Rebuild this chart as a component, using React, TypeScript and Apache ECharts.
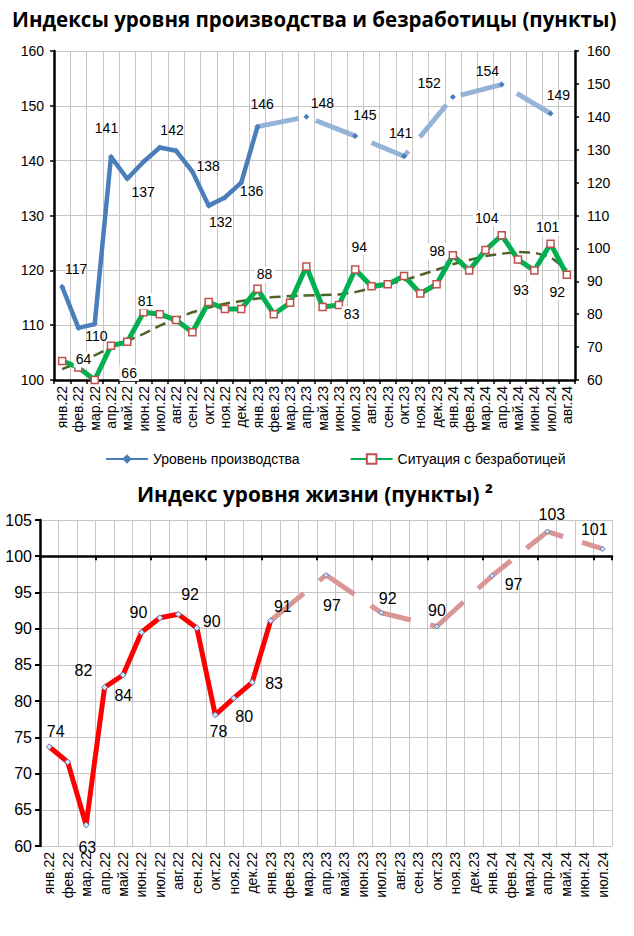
import React, { useEffect, useRef } from 'react';
import * as echarts from 'echarts';

// ---------- Data ----------
const monthsTop = [
  'янв.22', 'фев.22', 'мар.22', 'апр.22', 'май.22', 'июн.22', 'июл.22', 'авг.22', 'сен.22', 'окт.22', 'ноя.22', 'дек.22',
  'янв.23', 'фев.23', 'мар.23', 'апр.23', 'май.23', 'июн.23', 'июл.23', 'авг.23', 'сен.23', 'окт.23', 'ноя.23', 'дек.23',
  'янв.24', 'фев.24', 'мар.24', 'апр.24', 'май.24', 'июн.24', 'июл.24', 'авг.24',
];
const monthsBottom = [
  'янв.22', 'фев.22', 'мар.22', 'апр.22', 'май.22', 'июн.22', 'июл.22', 'авг.22', 'сен.22', 'окт.22', 'ноя.22', 'дек.22',
  'янв.23', 'фев.23', 'мар.23', 'апр.23', 'май.23', 'июн.23', 'июл.23', 'авг.23', 'сен.23', 'окт.23', 'ноя.23', 'дек.23',
  'янв.24', 'фев.24', 'мар.24', 'апр.24', 'май.24', 'июн.24', 'июл.24',
];

// Уровень производства: monthly (янв.22 – янв.23), then quarterly
const productionMonthly = [117, 109.5, 110.2, 140.7, 136.7, 139.8, 142.4, 141.8, 138, 131.8, 133.3, 136, 146.2];
const quarterMonths = ['янв.23', 'апр.23', 'июл.23', 'окт.23', 'янв.24', 'апр.24', 'июл.24'];
const productionQuarterly = [146.2, 148, 144.5, 140.8, 151.6, 153.9, 148.6];

// Ситуация с безработицей (right axis)
const unemployment = [
  65.8, 63.8, 60, 70.4, 71.6, 80.6, 80, 78.2, 74.5, 83.7, 81.6, 81.6,
  87.7, 80, 83.5, 94.5, 82.2, 82.8, 93.6, 88.5, 89.1, 91.6, 86.3, 89.1,
  97.9, 93.3, 99.5, 104, 96.6, 93.3, 101.4, 92,
];
const unemploymentTrend = [
  63.3, 65.3, 67.5, 69.9, 71.9, 74, 76.5, 78.7, 80.6, 82, 83.2, 84,
  84.8, 85.2, 85.5, 85.7, 85.8, 86, 86.7, 87.9, 89, 90.3, 91.9, 93.5,
  95.2, 96.5, 97.7, 98.4, 98.9, 98.7, 97.4, 93.5,
];

// Индекс уровня жизни
const lifeMonthly = [73.7, 71.6, 62.9, 81.9, 83.6, 89.5, 91.5, 92, 90.1, 78.1, 80.4, 82.6, 91.1];
const lifeQuarterly = [91.1, 97.4, 92.2, 90.3, 97.3, 103.4, 101];

// ---------- Label placement (styling) ----------
type Off = Record<number, [number, number]>;
const prodMonthlyLabelOffsets: Off = {
  0: [14, -17.5], 2: [1.7, 12], 3: [-4.5, -28.4], 4: [15.8, 13], 6: [12.2, -17.3], 8: [15.7, -5.5], 9: [12, 16], 11: [10.3, 8],
};
const prodQuarterLabelOffsets: Off = {
  0: [4.6, -22.5], 1: [16, -14], 2: [9.7, -20.8], 3: [-3.4, -22.8], 4: [-23.7, -14], 5: [-14.4, -13.5], 6: [7.8, -18.3],
};
const unemploymentLabelOffsets: Off = {
  0: [67, 12], 1: [5, -8], 5: [2, -11], 12: [7, -14.5], 17: [12.7, 9.3], 18: [4, -22], 24: [-15.7, -4],
  27: [-15, -17.4], 29: [-13.3, 19.7], 30: [-3, -16.3], 31: [-9.5, 17.4],
};
const lifeMonthlyLabelOffsets: Off = {
  0: [6.5, -15], 2: [1.2, 22.3], 3: [-21.2, -16.6], 4: [0.3, 20], 5: [-3.1, -19.6], 7: [11.7, -19.9],
  8: [14.9, -6.3], 9: [3.1, 16.8], 10: [10.4, 18.2], 11: [21.9, 1], 12: [12.2, -14],
};
const lifeQuarterLabelOffsets: Off = {
  1: [5.9, 30.7], 2: [6.3, -14.4], 3: [0.2, -15.8], 4: [21.5, 9.2], 5: [4.5, -16.6], 6: [-8.5, -19.7],
};

const FONT = 'Liberation Sans';

function fmt(p: any) {
  const v = Array.isArray(p.value) ? p.value[1] : p.value;
  return String(Math.round(v));
}

function labelled(values: any[], offsets: Off, extra: any) {
  return values.map((v, i) =>
    offsets[i]
      ? {
          value: v,
          label: {
            show: true,
            position: 'inside',
            offset: offsets[i],
            formatter: fmt,
            color: '#000',
            fontFamily: FONT,
            ...extra,
          },
        }
      : v
  );
}

export default function App() {
  const ref = useRef<HTMLDivElement>(null);

  useEffect(() => {
    if (!ref.current) return;
    const chart = echarts.init(ref.current, null, { renderer: 'svg' });

    const gridTopH = 329;
    const gridBotH = 326;

    const blackAxis = { show: true, lineStyle: { color: '#000', width: 2.5 } };
    const grayGrid = { show: true, lineStyle: { color: '#c6c6c6', width: 1 } };

    const option: any = {
      animation: false,
      backgroundColor: '#ffffff',
      title: [
        {
          text: 'Индексы уровня производства и безработицы (пункты)',
          left: 7,
          top: 3,
          textStyle: { fontFamily: 'Open Sans', fontWeight: 'bold', fontSize: 20.5, color: '#000' },
        },
        {
          text: 'Индекс уровня жизни (пункты) ²',
          left: 132,
          top: 478,
          textStyle: { fontFamily: 'Open Sans', fontWeight: 'bold', fontSize: 20.8, color: '#000' },
        },
      ],
      legend: {
        data: ['Уровень производства', 'Ситуация с безработицей'],
        left: 100,
        top: 447,
        itemWidth: 42,
        itemHeight: 12,
        itemGap: 50,
        textStyle: { fontFamily: FONT, fontSize: 14, color: '#000' },
      },
      grid: [
        { left: 54, top: 51, width: 521, height: gridTopH },
        { left: 40, top: 520, width: 572, height: gridBotH },
      ],
      xAxis: [
        {
          gridIndex: 0,
          type: 'category',
          data: monthsTop,
          boundaryGap: true,
          axisLine: blackAxis,
          axisTick: { show: true, length: 4, lineStyle: { color: '#000', width: 1.5 } },
          splitLine: grayGrid,
          axisLabel: { rotate: 90, interval: 0, fontSize: 14, fontFamily: FONT, color: '#000', margin: 6 },
        },
        {
          gridIndex: 1,
          type: 'category',
          data: monthsBottom,
          boundaryGap: true,
          axisLine: { show: false },
          axisTick: { show: false },
          splitLine: grayGrid,
          axisLabel: { rotate: 90, interval: 0, fontSize: 14, fontFamily: FONT, color: '#000', margin: 6 },
        },
        {
          gridIndex: 1,
          type: 'category',
          data: monthsBottom,
          boundaryGap: true,
          position: 'top',
          offset: -gridBotH / 9,
          axisLine: blackAxis,
          axisTick: { show: true, inside: true, length: 4, lineStyle: { color: '#000', width: 2 } },
          axisLabel: { show: false },
          splitLine: { show: false },
        },
      ],
      yAxis: [
        {
          gridIndex: 0,
          type: 'value',
          min: 100,
          max: 160,
          interval: 10,
          axisLine: blackAxis,
          axisTick: { show: true, length: 4, lineStyle: { color: '#000', width: 1.5 } },
          splitLine: grayGrid,
          axisLabel: { fontSize: 14, fontFamily: FONT, color: '#000', margin: 10 },
        },
        {
          gridIndex: 0,
          type: 'value',
          position: 'right',
          min: 60,
          max: 160,
          interval: 10,
          axisLine: blackAxis,
          axisTick: { show: true, length: 4, lineStyle: { color: '#000', width: 1.5 } },
          splitLine: { show: false },
          axisLabel: { fontSize: 14, fontFamily: FONT, color: '#000', margin: 12 },
        },
        {
          gridIndex: 1,
          type: 'value',
          min: 60,
          max: 105,
          interval: 5,
          axisLine: blackAxis,
          axisTick: { show: true, length: 5, lineStyle: { color: '#000', width: 2 } },
          splitLine: grayGrid,
          axisLabel: { fontSize: 16, fontFamily: FONT, color: '#000', margin: 8 },
        },
      ],
      series: [
        {
          name: 'Ситуация (тренд)',
          type: 'line',
          xAxisIndex: 0,
          yAxisIndex: 1,
          data: unemploymentTrend,
          symbol: 'none',
          lineStyle: { color: '#4f6228', width: 2.5, type: [11, 6] },
          z: 2,
        },
        {
          name: 'Ситуация с безработицей',
          type: 'line',
          xAxisIndex: 0,
          yAxisIndex: 1,
          data: labelled(unemployment, unemploymentLabelOffsets, {
            fontSize: 14,
            backgroundColor: '#fff',
            padding: [1, 2],
          }),
          symbol: 'rect',
          symbolSize: 7,
          itemStyle: { color: '#fff', borderColor: '#c0504d', borderWidth: 1.5 },
          lineStyle: { color: '#00b050', width: 5 },
          z: 3,
        },
        {
          name: 'Уровень производства (кварт.)',
          type: 'line',
          xAxisIndex: 0,
          yAxisIndex: 0,
          data: labelled(
            quarterMonths.map((m, i) => [m, productionQuarterly[i]]),
            prodQuarterLabelOffsets,
            { fontSize: 14 }
          ),
          symbol: 'diamond',
          symbolSize: 6,
          itemStyle: { color: '#4a7ebb' },
          lineStyle: { color: '#95b3d7', width: 5, type: [42, 18] },
          z: 4,
        },
        {
          name: 'Уровень производства',
          type: 'line',
          xAxisIndex: 0,
          yAxisIndex: 0,
          data: labelled(productionMonthly, prodMonthlyLabelOffsets, { fontSize: 14 }),
          symbol: 'diamond',
          symbolSize: 6,
          itemStyle: { color: '#4a7ebb' },
          lineStyle: { color: '#4a7ebb', width: 4.5 },
          z: 5,
        },
        {
          name: 'Индекс уровня жизни (кварт.)',
          type: 'line',
          xAxisIndex: 1,
          yAxisIndex: 2,
          data: labelled(
            quarterMonths.map((m, i) => [m, lifeQuarterly[i]]),
            lifeQuarterLabelOffsets,
            { fontSize: 16 }
          ),
          symbol: 'diamond',
          symbolSize: 5,
          itemStyle: { color: '#dbe5f1', borderColor: '#4f81bd', borderWidth: 1 },
          lineStyle: { color: '#d99694', width: 5, type: [43, 20] },
          z: 4,
        },
        {
          name: 'Индекс уровня жизни',
          type: 'line',
          xAxisIndex: 1,
          yAxisIndex: 2,
          data: labelled(lifeMonthly, lifeMonthlyLabelOffsets, { fontSize: 16 }),
          symbol: 'diamond',
          symbolSize: 6,
          itemStyle: { color: '#dbe5f1', borderColor: '#4f81bd', borderWidth: 1 },
          lineStyle: { color: '#ff0000', width: 5 },
          z: 5,
        },
      ],
    };

    chart.setOption(option);
    return () => chart.dispose();
  }, []);

  return (
    <div
      ref={ref}
      style={{ position: 'absolute', left: 0, top: 0, width: 634, height: 936, background: '#fff' }}
    />
  );
}
